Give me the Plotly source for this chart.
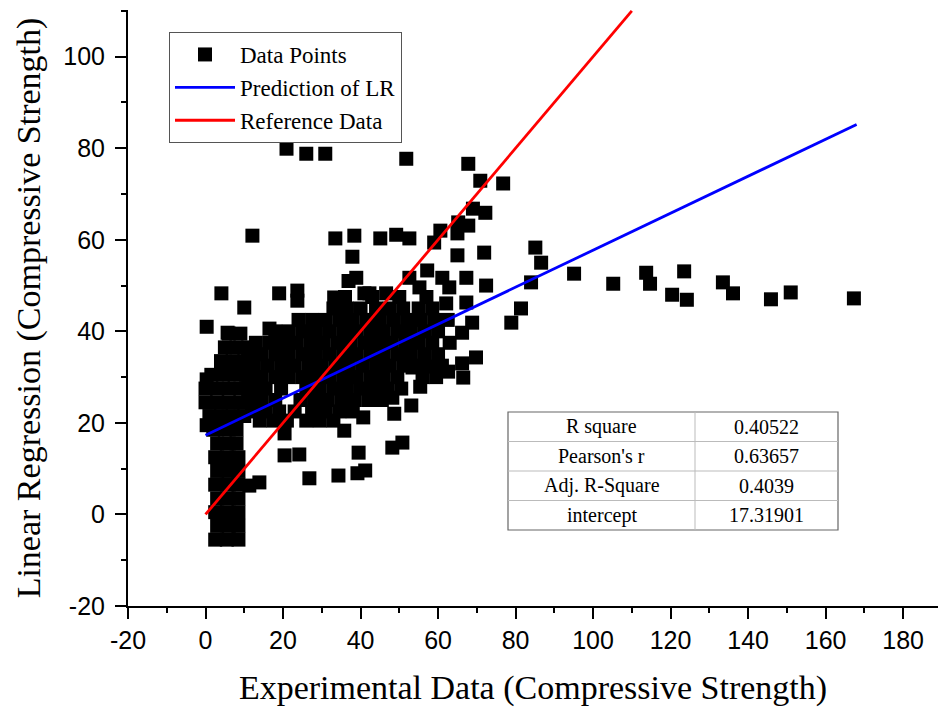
import plotly.graph_objects as go

# ---------------- data ----------------
column_x = [2.5, 5.5, 8.5, 3, 6, 8.5, 2.5, 5.5, 8.5, 3, 6, 8.5, 2.5, 5.5, 8.5, 3, 6, 8.5,
            2.5, 5.5, 8.5, 3, 6, 8, 2, 5, 8, 1, 4, 7, 10, 0, 3, 6, 9, 0, 3, 6, 9,
            1.5, 4.5, 7.5, 10.5, 4, 7, 10, 5, 8, 11, 6, 9, 0.3, 0.3, 0.3]
column_y = [-5.5, -5.5, -5.5, -2.5, -2.5, -2.5, 0.5, 0.5, 0.5, 3.5, 3.5, 3.5, 6.5, 6.5, 6.5,
            9.5, 9.5, 9.5, 12.5, 12.5, 12.5, 15.5, 15.5, 15.5, 18.5, 18.5, 18.5,
            21.5, 21.5, 21.5, 21.5, 24.5, 24.5, 24.5, 24.5, 27.5, 27.5, 27.5, 27.5,
            30.5, 30.5, 30.5, 30.5, 33.5, 33.5, 33.5, 36.5, 36.5, 36.5, 39.5, 39.5,
            41, 19.5, 29.5]

blob_x = [14, 17.5, 21, 26, 29.5, 33,
          12, 15.5, 19, 23, 27.5, 31, 34.5, 38,
          11, 14.5, 18, 24.5, 28, 31.5, 35, 38.5, 42, 45.5,
          12, 15.5, 19.5, 26, 29.5, 33, 36.5, 40, 43.5, 47, 50.5,
          11, 14.5, 18, 21.5, 25, 28.5, 32, 35.5, 39, 42.5, 46, 49.5, 56, 59.5,
          12.5, 16, 19.5, 23, 26.5, 30, 33.5, 37, 40.5, 44, 47.5, 51, 54.5, 61,
          11, 14.5, 18, 21.5, 25, 28.5, 32, 35.5, 39, 42.5, 46, 49.5, 53, 56.5, 60,
          13, 16.5, 20, 23.5, 27, 30.5, 34, 37.5, 41, 44.5, 48, 51.5, 55, 58.5, 63,
          18, 21.5, 25, 28.5, 32, 35.5, 39, 42.5, 46, 49.5, 53, 56.5, 60,
          24, 27.5, 31, 34.5, 38, 41.5, 45, 48.5, 52, 55.5, 59, 62.5,
          33, 36.5, 40, 44, 47.5, 51, 55, 58.5,
          36, 43, 50, 57]
blob_y = [20.5] * 6 + [22.5] * 8 + [25] * 10 + [27.5] * 11 + [30] * 14 + \
         [32.5] * 14 + [35] * 15 + [37.5] * 15 + [40] * 13 + [42.5] * 12 + \
         [45] * 8 + [47.5] * 4

scatter_x = [33.5, 38.4, 37.9, 36.9, 38.9, 45.1, 49.2, 52.6, 59, 60.6, 65, 65.2, 67.8, 69,
             72.2, 65, 71.9, 57.2, 52.6, 61.1, 55.2, 62.9, 67.3, 72.4, 62.1, 67.3, 66.2,
             68.8, 69.8, 66.2, 66.5, 62.6, 57.7, 53.4, 55.4, 44.8, 48.2, 53.1, 48.7, 40.7,
             50.8, 48.2, 39.5, 41.2, 39.2, 34.3, 26.8, 35.8, 20.4, 20.4, 24.2, 13.9, 11.3,
             4.1, 10, 19, 23.7, 23.7, 33.2, 33.8, 41, 42.3, 46.6, 12.1, 20.9, 26, 30.9,
             51.8, 67.8, 70.9, 76.8, 81.4, 78.9, 85.1, 86.6, 84, 95.1, 105.2, 113.7,
             114.7, 120.4, 123.5, 124.2, 133.5, 136.1, 145.9, 151, 167.3, 43, 16.5, 5.7]
scatter_y = [60.3, 60.9, 56.3, 51, 51.7, 60.3, 61.1, 60.3, 59.4, 62, 61.4, 63.8, 63.1, 66.8,
             65.9, 56.6, 57.2, 53.3, 51.7, 51.7, 49.6, 49.6, 51.7, 50, 46.1, 46.3, 39.7,
             41.9, 34.3, 33, 29.9, 31.2, 32.3, 32.1, 27.9, 27.7, 25.5, 23.8, 22, 21.2,
             15.7, 14.6, 13.5, 9.6, 9, 8.5, 7.9, 18.3, 17.7, 12.9, 13.1, 7, 6.3,
             48.3, 45.2, 48.3, 48.9, 46.7, 47.4, 46.1, 48.3, 48.3, 48.3, 60.9, 79.9, 78.8, 78.8,
             77.7, 76.6, 72.9, 72.3, 45, 41.9, 58.3, 55, 50.7, 52.6, 50.4, 52.8,
             50.4, 48, 53.1, 46.9, 50.7, 48.3, 47, 48.5, 47.2, 27, 40.6, 39.7]

exp_x = column_x + blob_x + scatter_x
lr_y = column_y + blob_y + scatter_y

lr_line_x = [0, 168]
lr_line_y = [17.32, 85.2]
ref_line_x = [0, 110]
ref_line_y = [0, 110]

x_tick_vals = [-20, 0, 20, 40, 60, 80, 100, 120, 140, 160, 180]
x_tick_text = ["-20", "0", "20", "40", "60", "80", "100", "120", "140", "160", "180"]
y_tick_vals = [-20, 0, 20, 40, 60, 80, 100]
y_tick_text = ["-20", "0", "20", "40", "60", "80", "100"]

stat_names = ["R square", "Pearson's r", "Adj. R-Square", "intercept"]
stat_values = ["0.40522", "0.63657", "0.4039", "17.31901"]

# ---------------- figure ----------------
W, H = 938, 711
ML, MR, MT, MB = 128, 0, 10, 105
PW, PH = W - ML - MR, H - MT - MB


def px(xp):
    return (xp - ML) / PW


def py(yp):
    return (H - MB - yp) / PH


fig = go.Figure()
fig.add_trace(go.Scatter(x=exp_x, y=lr_y, mode="markers", name="Data Points",
                         marker=dict(symbol="square", size=14, color="black",
                                     line=dict(width=0))))
fig.add_trace(go.Scatter(x=lr_line_x, y=lr_line_y, mode="lines", name="Prediction of LR",
                         line=dict(color="#0000ff", width=2.8)))
fig.add_trace(go.Scatter(x=ref_line_x, y=ref_line_y, mode="lines", name="Reference Data",
                         line=dict(color="#ff0000", width=2.8)))

serif = "Liberation Serif, Times New Roman, serif"
sans = "Liberation Sans, Arial, sans-serif"

axis_common = dict(showline=True, linecolor="black", linewidth=2, mirror=False,
                   ticks="outside", ticklen=11, tickwidth=2, tickcolor="black",
                   showgrid=False, zeroline=False,
                   tickfont=dict(family=sans, size=25, color="black"),
                   minor=dict(ticks="outside", ticklen=5, tickwidth=2, tickcolor="black",
                              dtick=10, showgrid=False))

fig.update_xaxes(range=[-20, 189], tickmode="array", tickvals=x_tick_vals,
                 ticktext=x_tick_text,
                 title=dict(text="Experimental Data (Compressive Strength)",
                            font=dict(family=serif, size=34, color="black"), standoff=22),
                 **axis_common)
fig.update_yaxes(range=[-20, 110.2], tickmode="array", tickvals=y_tick_vals,
                 ticktext=y_tick_text, ticklabelstandoff=5,
                 title=dict(text="Linear Regression (Compressive Strength)",
                            font=dict(family=serif, size=34, color="black"), standoff=12),
                 **axis_common)

# statistics table (shapes + text)
tx0, tx1, txm = 508, 838, 695
ty0, ty1 = 412, 530
rh = (ty1 - ty0) / 4
shapes = [dict(type="rect", xref="paper", yref="paper", x0=px(tx0), x1=px(tx1),
               y0=py(ty1), y1=py(ty0), line=dict(color="#666666", width=1.2),
               fillcolor="white", layer="above")]
shapes.append(dict(type="line", xref="paper", yref="paper", x0=px(txm), x1=px(txm),
                   y0=py(ty1), y1=py(ty0), line=dict(color="#bbbbbb", width=1)))
for i in range(1, 4):
    yy = ty0 + i * rh
    shapes.append(dict(type="line", xref="paper", yref="paper", x0=px(tx0), x1=px(tx1),
                       y0=py(yy), y1=py(yy), line=dict(color="#bbbbbb", width=1)))
annotations = []
for i, (n, v) in enumerate(zip(stat_names, stat_values)):
    yc = ty0 + (i + 0.5) * rh
    annotations.append(dict(xref="paper", yref="paper", x=px((tx0 + txm) / 2), y=py(yc),
                            text=n, showarrow=False, xanchor="center", yanchor="middle",
                            font=dict(family=serif, size=20, color="black")))
    annotations.append(dict(xref="paper", yref="paper", x=px((txm + tx1) / 2), y=py(yc),
                            text=v, showarrow=False, xanchor="center", yanchor="middle",
                            font=dict(family=serif, size=20, color="black")))

fig.update_layout(
    width=W, height=H,
    margin=dict(l=ML, r=MR, t=MT, b=MB),
    paper_bgcolor="white", plot_bgcolor="white",
    showlegend=True,
    legend=dict(x=px(169), y=py(32), xanchor="left", yanchor="top",
                bgcolor="white", bordercolor="#555555", borderwidth=1,
                font=dict(family=serif, size=23, color="black"),
                itemwidth=60, tracegroupgap=0),
    shapes=shapes,
    annotations=annotations,
)

fig.write_html("out.html")
